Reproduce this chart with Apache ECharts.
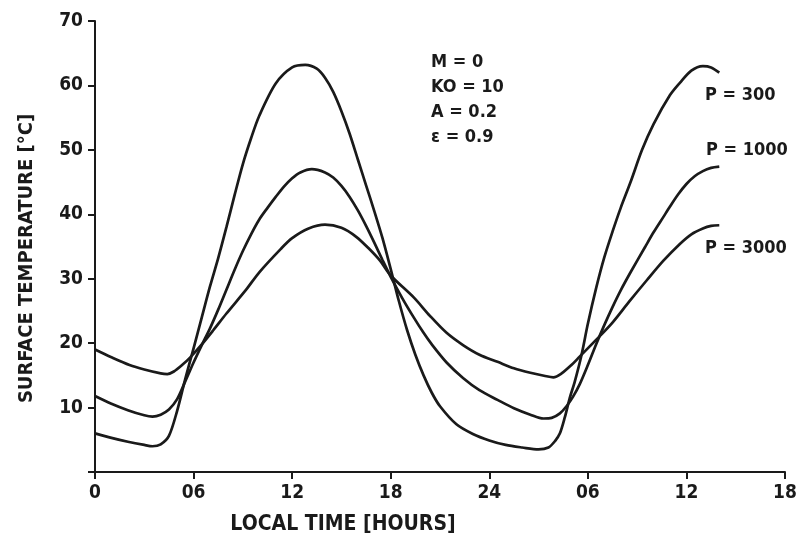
<!DOCTYPE html>
<html>
<head>
<meta charset="utf-8">
<script src="https://cdn.jsdelivr.net/npm/echarts@6/dist/echarts.min.js"></script>
<style>
html,body{margin:0;padding:0;background:#fff;}
#chart{width:799px;height:540px;}
</style>
</head>
<body>
<div id="chart"></div>
<script>
// x tick labels (local time, hours; second day restarts)
var xTickLabels = ['0', '06', '12', '18', '24', '06', '12', '18'];
var yTickLabels = ['', '10', '20', '30', '40', '50', '60', '70'];

// P = 300  [hour, °C]
var p300 = [
  [0,6],[1,5.3],[2,4.7],[3,4.2],[3.5,4],[4,4.3],[4.5,5.6],[5,9.5],[5.5,14.5],[6,19.2],
  [6.5,24],[7,28.8],[7.5,33.2],[8,38],[8.5,43],[9,47.8],[9.5,51.8],[10,55.3],[11,60.3],
  [12,62.8],[12.8,63.2],[13.5,62.6],[14,61.2],[14.5,59],[15,56],[15.5,52.5],[16,48.5],
  [16.5,44.5],[17,40.5],[17.5,36.3],[18,31.5],[18.5,26.5],[19,22],[19.5,18.2],[20,15],
  [20.5,12.3],[21,10.2],[22,7.4],[23,5.9],[24,4.9],[25,4.2],[26,3.8],[27,3.5],[27.6,3.8],
  [28,4.8],[28.3,6],[28.6,8.5],[28.9,11.5],[29.2,14],[29.6,18],[30,23],[30.5,28.5],
  [31,33.3],[31.5,37.3],[32,41],[32.6,45],[33.3,50],[34,54],[35,58.5],[35.6,60.4],
  [36.3,62.3],[37,63],[37.5,62.8],[38,62]
];

// P = 1000  [hour, °C]
var p1000 = [
  [0,11.8],[1,10.6],[2,9.6],[3,8.8],[3.5,8.6],[4,8.9],[4.5,9.7],[5,11.3],[5.5,14.1],
  [6,17],[6.5,19.7],[7,22.3],[7.5,25.2],[8,28.3],[8.5,31.4],[9,34.3],[9.5,36.9],[10,39.2],
  [10.5,41],[11,42.7],[11.5,44.3],[12,45.6],[12.5,46.5],[13.2,47],[14,46.5],[14.5,45.7],
  [15,44.4],[15.5,42.7],[16,40.6],[16.5,38.2],[17,35.6],[17.5,32.9],[18,30.3],[18.7,27],
  [19.4,24],[20,21.6],[20.5,19.8],[21.4,17],[22.4,14.6],[23.4,12.7],[24.5,11.2],[25.5,9.9],
  [26.5,8.9],[27.3,8.3],[27.8,8.4],[28.3,9.1],[28.7,10.2],[29.1,11.7],[29.5,13.6],[30,16.6],
  [30.5,19.8],[31,22.8],[31.5,25.6],[32,28.2],[32.6,31],[33.5,35],[34,37.2],[34.6,39.6],
  [35,41.2],[35.5,43.1],[36,44.7],[36.5,45.9],[37,46.7],[37.5,47.2],[38,47.4]
];

// P = 3000  [hour, °C]
var p3000 = [
  [0,19],[1,17.8],[2.1,16.6],[3,15.9],[4,15.3],[4.4,15.2],[4.8,15.6],[5.3,16.6],
  [5.8,17.8],[6.5,19.8],[7.2,22],[8,24.6],[9.2,28.3],[10,31],[11.3,34.6],[12,36.3],
  [13,37.8],[14,38.4],[15,37.9],[15.9,36.5],[16.7,34.6],[17.35,32.8],[18,30.5],
  [19.4,27.1],[20.4,24.2],[21.4,21.6],[22.4,19.7],[23.4,18.2],[24.5,17.1],[25.5,16.1],
  [26.5,15.4],[27.4,14.9],[27.9,14.7],[28.4,15.3],[29,16.6],[29.5,17.9],[30.5,20.5],
  [31.5,23.2],[32.5,26.4],[33.6,29.8],[34.6,32.8],[35.6,35.4],[36.3,36.9],[37,37.8],
  [37.5,38.2],[38,38.3]
];

var seriesNames = ['P = 300', 'P = 1000', 'P = 3000'];
var paramLines = ['M = 0', 'KO = 10', 'A = 0.2', 'ε = 0.9'];

var FONT = '"DejaVu Sans Condensed", "DejaVu Sans"';
var INK = '#1a1a1a';

var chart = echarts.init(document.getElementById('chart'), null, {renderer: 'canvas'});

function lineSeries(name, data) {
  return {
    name: name,
    type: 'line',
    data: data,
    smooth: 0.3,
    showSymbol: false,
    symbol: 'none',
    lineStyle: {color: INK, width: 2.7},
    z: 3
  };
}

var graphics = [];
paramLines.forEach(function (t, i) {
  graphics.push({
    type: 'text', left: 431, top: 53 + i * 25,
    style: {text: t, font: 'bold 18px ' + FONT, fill: INK}
  });
});
var pLabelPos = [[705, 86], [706, 141], [705, 239]];
seriesNames.forEach(function (t, i) {
  graphics.push({
    type: 'text', left: pLabelPos[i][0], top: pLabelPos[i][1],
    style: {text: t, font: 'bold 18px ' + FONT, fill: INK}
  });
});

chart.setOption({
  animation: false,
  backgroundColor: '#ffffff',
  grid: {left: 95, right: 14, top: 21, bottom: 68, containLabel: false, outerBoundsMode: 'none'},
  xAxis: {
    type: 'value', min: 0, max: 42, interval: 6,
    name: 'LOCAL TIME [HOURS]',
    nameLocation: 'middle', nameGap: 42,
    nameTextStyle: {fontFamily: FONT, fontWeight: 'bold', fontSize: 21, color: INK, padding: [0, 194, 0, 0]},
    axisLine: {show: true, onZero: false, lineStyle: {color: INK, width: 2}},
    axisTick: {show: true, length: 7, lineStyle: {color: INK, width: 2}},
    axisLabel: {
      fontFamily: FONT, fontWeight: 'bold', fontSize: 19, color: INK, margin: 12,
      formatter: function (v) { return xTickLabels[Math.round(v / 6)]; }
    },
    splitLine: {show: false}
  },
  yAxis: {
    type: 'value', min: 0, max: 70, interval: 10,
    name: 'SURFACE TEMPERATURE [°C]',
    nameLocation: 'middle', nameGap: 58, nameRotate: 90,
    nameTextStyle: {fontFamily: FONT, fontWeight: 'bold', fontSize: 20, color: INK, padding: [0, 24, 0, 0]},
    axisLine: {show: true, lineStyle: {color: INK, width: 2}},
    axisTick: {show: true, length: 7, lineStyle: {color: INK, width: 2}},
    axisLabel: {
      fontFamily: FONT, fontWeight: 'bold', fontSize: 19, color: INK, margin: 12,
      formatter: function (v) { return yTickLabels[Math.round(v / 10)]; }
    },
    splitLine: {show: false}
  },
  graphic: graphics,
  series: [
    lineSeries(seriesNames[0], p300),
    lineSeries(seriesNames[1], p1000),
    lineSeries(seriesNames[2], p3000)
  ]
});
</script>
</body>
</html>
